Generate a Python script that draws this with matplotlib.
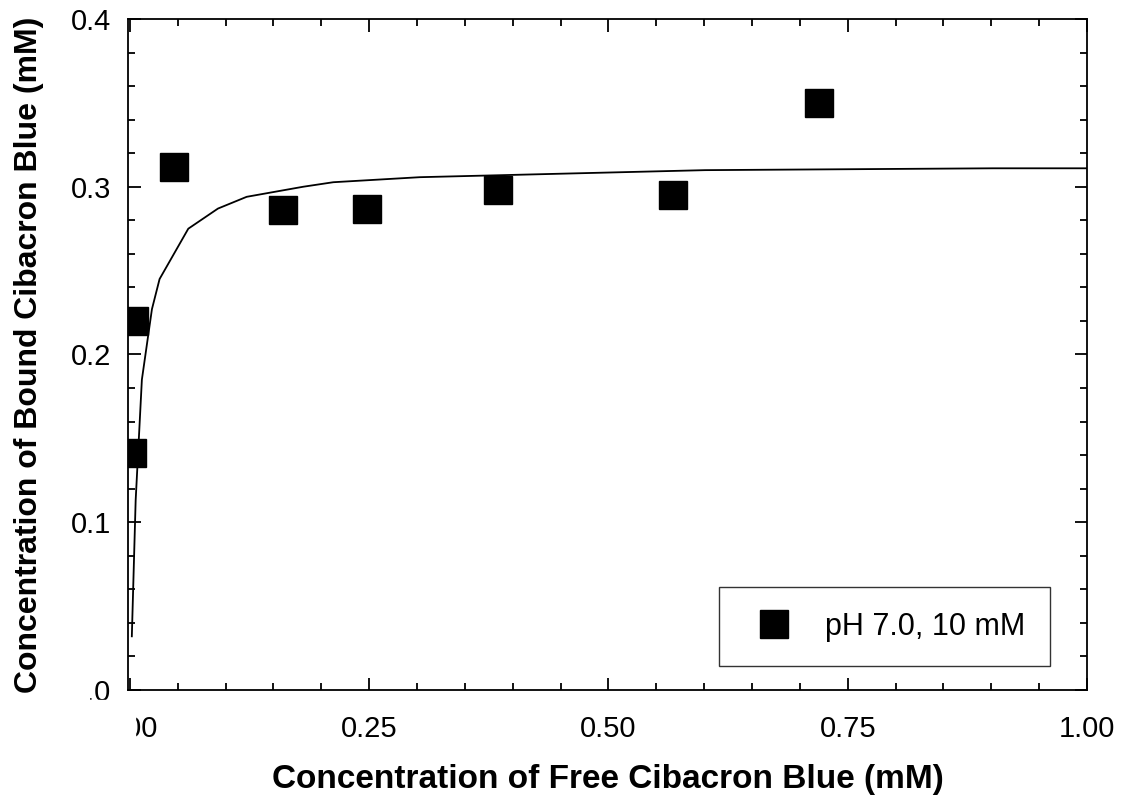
import numpy as np
import matplotlib.pyplot as plt
from matplotlib.patches import Rectangle
from matplotlib.ticker import MultipleLocator, FixedLocator

plt.rcParams['font.family'] = ['Liberation Sans', 'DejaVu Sans']

# measured points (mM)
free_conc = [0.002, 0.004, 0.046, 0.160, 0.248, 0.385, 0.567, 0.720]
bound_conc = [0.1415, 0.220, 0.312, 0.286, 0.2866, 0.298, 0.295, 0.350]

# fitted curve, vertices
fit_x = [0.002, 0.006, 0.0125, 0.023, 0.031, 0.061, 0.092, 0.122, 0.181,
         0.2125, 0.303, 0.601, 0.902, 1.0]
fit_y = [0.032, 0.113, 0.185, 0.227, 0.245, 0.275, 0.287, 0.294, 0.300,
         0.3027, 0.3057, 0.3099, 0.311, 0.311]

x_ticks = [0.0, 0.25, 0.50, 0.75, 1.00]
x_tick_labels = ['0.00', '0.25', '0.50', '0.75', '1.00']
y_ticks = [0.0, 0.1, 0.2, 0.3, 0.4]
y_tick_labels = ['0.0', '0.1', '0.2', '0.3', '0.4']

fig = plt.figure(figsize=(11.3, 8.05), dpi=100)
ax = fig.add_axes([128 / 1130, 1 - 690 / 805, (1087 - 128) / 1130, (690 - 19) / 805])

ax.plot(fit_x, fit_y, color='black', lw=1.3, zorder=2)
ax.plot(free_conc, bound_conc, ls='none', marker='s', ms=20, color='black',
        label='pH 7.0, 10 mM', zorder=3)

ax.set_xlim(-0.002, 1.0)
ax.set_ylim(0.0, 0.4)
ax.xaxis.set_major_locator(FixedLocator(x_ticks))
ax.set_xticklabels(x_tick_labels)
ax.xaxis.set_minor_locator(MultipleLocator(0.05))
ax.yaxis.set_major_locator(FixedLocator(y_ticks))
ax.set_yticklabels(y_tick_labels)
ax.yaxis.set_minor_locator(MultipleLocator(0.02))

ax.tick_params(which='both', direction='in', top=True, right=True,
               width=1.3, labelsize=21)
ax.tick_params(which='major', length=9)
ax.tick_params(which='minor', length=5)
ax.tick_params(axis='x', which='major', pad=18)
ax.tick_params(axis='y', which='major', pad=12)
for s in ax.spines.values():
    s.set_linewidth(1.3)

ax.set_xlabel('Concentration of Free Cibacron Blue (mM)', fontsize=24,
              fontweight='bold')
ax.set_ylabel('Concentration of Bound Cibacron Blue (mM)', fontsize=23,
              fontweight='bold')
ax.xaxis.set_label_coords(0.5, -0.110)
ax.yaxis.set_label_coords(-0.088, 0.5)

leg = ax.legend(loc='lower right', bbox_to_anchor=(0.9614, 0.0358), fontsize=22,
                frameon=True, fancybox=False, edgecolor='black',
                borderpad=0.8, handletextpad=0.67, handlelength=2.0,
                borderaxespad=0)
leg.get_frame().set_linewidth(1.0)

# the original has its first tick labels partly cut off
fig.patches.append(Rectangle((0, 1 - 750 / 805), 135 / 1130, 50 / 805,
                             transform=fig.transFigure, color='white', zorder=10))
fig.patches.append(Rectangle((60 / 1130, 1 - 705 / 805), 29 / 1130, 30 / 805,
                             transform=fig.transFigure, color='white', zorder=10))

fig.savefig('out.png', dpi=100)
